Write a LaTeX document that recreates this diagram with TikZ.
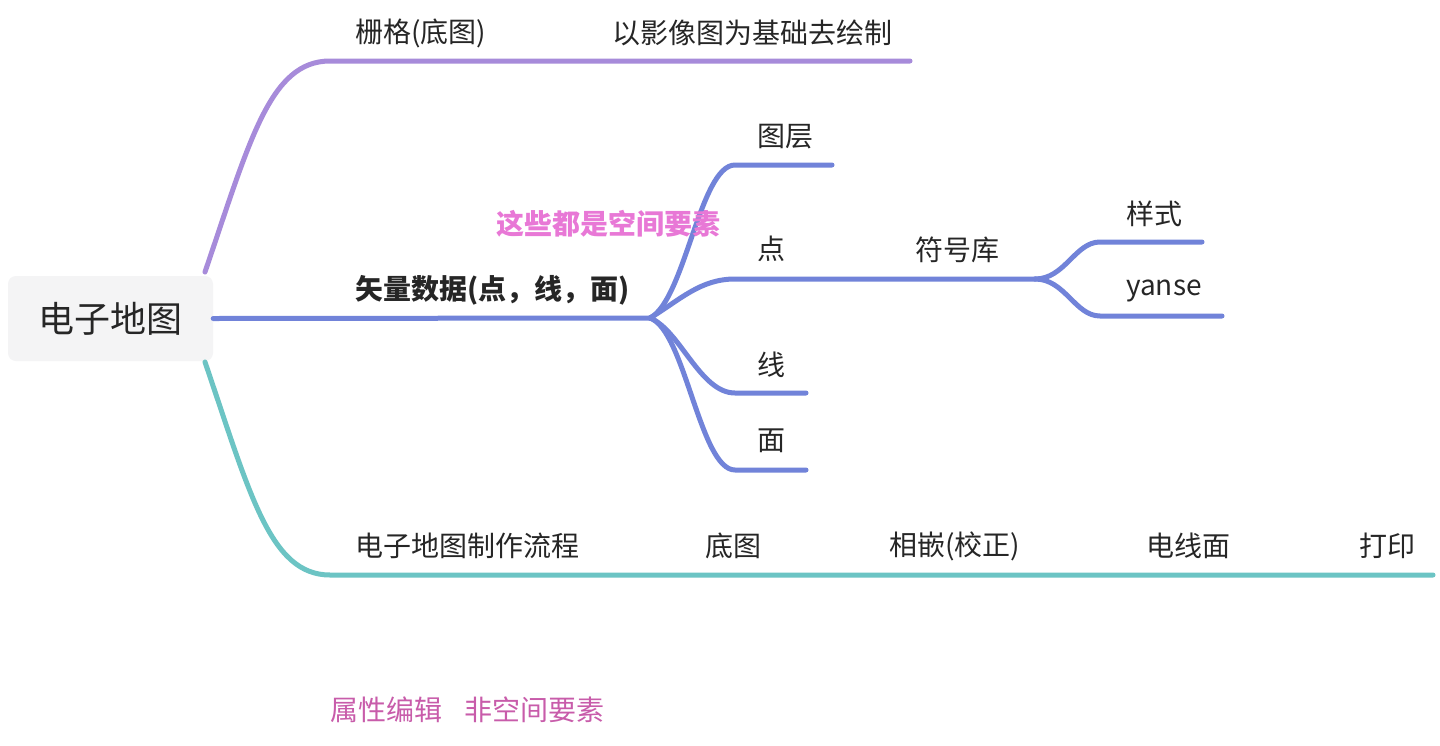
\documentclass[tikz,border=0pt]{standalone}
\usepackage{fontspec}
\setmainfont{Noto Sans CJK SC}
\definecolor{cpurple}{RGB}{167,139,218}
\definecolor{cblue}{RGB}{113,131,217}
\definecolor{cteal}{RGB}{108,196,196}
\definecolor{cpink}{RGB}{232,120,214}
\definecolor{cmag}{RGB}{200,92,170}
\definecolor{ctext}{RGB}{38,38,38}
\definecolor{croot}{RGB}{244,244,245}
\begin{document}
\begin{tikzpicture}[x=1pt,y=-1pt,
  lbl/.style={anchor=west,inner sep=0pt,text=ctext,font=\fontsize{28}{33}\selectfont},
  branch/.style={line width=5pt,line cap=round},
  rootbox/.style={fill=croot,rounded corners=8pt,inner sep=0pt,minimum width=205pt,minimum height=85pt,text=ctext,font=\fontsize{36}{42}\selectfont}]
\useasboundingbox (0,0) rectangle (1440,745);
\fill[white] (0,0) rectangle (1440,745);

% root
\node[rootbox] (root) at (110.5,318.5) {电子地图};

% coordinates
\coordinate (pA) at (205,272);
\coordinate (pB) at (330,61);
\coordinate (pE) at (910,61);
\coordinate (bJ) at (650,318);
\coordinate (tA) at (205,362);
\coordinate (tB) at (330,575);
\coordinate (tE) at (1433,575);
\coordinate (l1a) at (735,165);
\coordinate (l1e) at (832,165);
\coordinate (l2a) at (735,279);
\coordinate (l2j) at (1035,279);
\coordinate (l3a) at (735,393);
\coordinate (l3e) at (806,393);
\coordinate (l4a) at (735,470);
\coordinate (l4e) at (806,470);
\coordinate (s1a) at (1100,242);
\coordinate (s1e) at (1202,242);
\coordinate (s2a) at (1100,316);
\coordinate (s2e) at (1222,316);

% purple branch
\draw[branch,cpurple] (pA) .. controls (250,140) and (270,61) .. (pB) -- (pE);
% teal branch
\draw[branch,cteal] (tA) .. controls (250,494) and (270,575) .. (tB) -- (tE);
% blue branch
\draw[branch,cblue] (root.east) -- (bJ);
\draw[branch,cblue] (bJ) .. controls (685,300) and (700,165) .. (l1a) -- (l1e);
\draw[branch,cblue] (bJ) .. controls (680,300) and (700,279) .. (l2a) -- (l2j);
\draw[branch,cblue] (bJ) .. controls (680,330) and (700,393) .. (l3a) -- (l3e);
\draw[branch,cblue] (bJ) .. controls (685,330) and (700,470) .. (l4a) -- (l4e);
\draw[branch,cblue] (l2j) .. controls (1065,279) and (1075,242) .. (s1a) -- (s1e);
\draw[branch,cblue] (l2j) .. controls (1065,279) and (1075,316) .. (s2a) -- (s2e);

% labels
\node[lbl] (n1) at (355,33) {栅格(底图)};
\node[lbl] (n1a) at (612,33) {以影像图为基础去绘制};
\node[lbl,font=\fontsize{28}{33}\selectfont\bfseries] (n2) at (355,290) {矢量数据(点，线，面)};
\node[lbl,text=cpink,font=\fontsize{28}{33}\selectfont\bfseries] (note) at (496,224) {这些都是空间要素};
\node[lbl] (n21) at (757,137) {图层};
\node[lbl] (n22) at (757,249) {点};
\node[lbl] (n23) at (757,365) {线};
\node[lbl] (n24) at (757,441) {面};
\node[lbl] (n221) at (915,250) {符号库};
\node[lbl] (n2211) at (1126,214) {样式};
\node[lbl] (n2212) at (1126,291) {yanse};
\node[lbl] (n3) at (355,546) {电子地图制作流程};
\node[lbl] (n31) at (705,546) {底图};
\node[lbl] (n32) at (889,546) {相嵌(校正)};
\node[lbl] (n33) at (1146,546) {电线面};
\node[lbl] (n34) at (1359,546) {打印};
\node[lbl,text=cmag] (free) at (330,710) {属性编辑\hspace{0.8em}非空间要素};
\end{tikzpicture}
\end{document}
